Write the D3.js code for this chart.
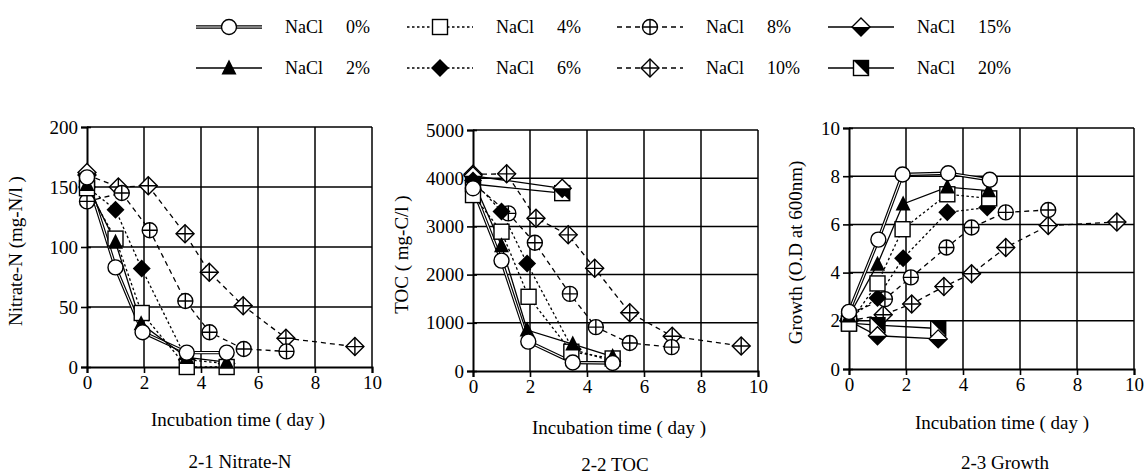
<!DOCTYPE html>
<html>
<head>
<meta charset="utf-8">
<script src="https://cdn.jsdelivr.net/npm/d3@7"></script>
<style>
  body { margin: 0; background: #fff; }
  svg, svg text { font-family: "Liberation Serif", "DejaVu Serif", serif; }
</style>
</head>
<body>
<div id="chart"></div>
<script>
// Series keys / legend labels
const series = ["0%", "2%", "4%", "6%", "8%", "10%", "15%", "20%"];

// Nitrate-N (mg-N/l), pairs of [day, value]
const nitrate0 = [[0, 158], [1, 83], [1.95, 29], [3.5, 12], [4.9, 12]];
const nitrate2 = [[0, 152], [1, 104], [1.9, 36], [3.5, 8], [4.9, 4]];
const nitrate4 = [[0, 149], [1, 107], [1.92, 45], [3.5, 0], [4.9, 0]];
const nitrate6 = [[0, 150], [1, 131], [1.92, 82], [3.5, 6], [4.9, 3]];
const nitrate8 = [[0, 138], [1.22, 145], [2.2, 114], [3.45, 55], [4.3, 29], [5.5, 15], [7, 13]];
const nitrate10 = [[0, 160], [1.1, 150], [2.15, 151], [3.44, 111], [4.29, 79], [5.48, 51], [6.98, 24], [9.4, 17]];
const nitrate15 = [[0, 162]];
const nitrate20 = [[0, 155]];

// TOC (mg-C/l)
const toc0 = [[0, 3790], [1, 2290], [1.94, 610], [3.5, 175], [4.9, 165]];
const toc2 = [[0, 3950], [1, 2600], [1.9, 850], [3.5, 560], [4.9, 300]];
const toc4 = [[0, 3650], [1, 2890], [1.95, 1540], [3.45, 400], [4.9, 260]];
const toc6 = [[0, 3950], [1, 3310], [1.9, 2230], [3.5, 450], [4.9, 200]];
const toc8 = [[0, 3900], [1.24, 3270], [2.17, 2660], [3.4, 1600], [4.31, 910], [5.5, 580], [6.97, 495]];
const toc10 = [[0, 4080], [1.18, 4090], [2.21, 3170], [3.34, 2825], [4.27, 2130], [5.5, 1210], [6.99, 720], [9.41, 520]];
const toc15 = [[0, 4050], [3.13, 3790]];
const toc20 = [[0, 3880], [3.13, 3690]];

// Growth (O.D at 600nm)
const growth0 = [[0, 2.37], [1.03, 5.37], [1.88, 8.07], [3.48, 8.12], [4.94, 7.85]];
const growth2 = [[0, 2.2], [1, 4.35], [1.9, 6.85], [3.45, 7.55], [4.9, 7.4]];
const growth4 = [[0, 1.88], [1, 3.55], [1.88, 5.8], [3.45, 7.25], [4.92, 7.08]];
const growth6 = [[0, 2.1], [1, 2.95], [1.9, 4.6], [3.45, 6.5], [4.85, 6.7]];
const growth8 = [[0, 2.3], [1.26, 2.9], [2.17, 3.8], [3.42, 5.04], [4.3, 5.87], [5.5, 6.5], [6.99, 6.6]];
const growth10 = [[0, 2.0], [1.2, 2.25], [2.2, 2.7], [3.33, 3.42], [4.3, 3.95], [5.5, 5.04], [6.99, 5.95], [9.4, 6.1]];
const growth15 = [[0, 2.0], [1, 1.38], [3.13, 1.25]];
const growth20 = [[0, 1.9], [1, 1.82], [3.13, 1.68]];

// Axis ticks and texts
const xTicks = [0, 2, 4, 6, 8, 10];
const nitrateTicks = [0, 50, 100, 150, 200];
const tocTicks = [0, 1000, 2000, 3000, 4000, 5000];
const growthTicks = [0, 2, 4, 6, 8, 10];
const yTitles = ["Nitrate-N (mg-N/l )", "TOC ( mg-C/l )", "Growth (O.D  at 600nm)"];
const captions = ["2-1 Nitrate-N", "2-2 TOC", "2-3 Growth"];
const xTitle = "Incubation time ( day )";

const panelData = [
  [nitrate0, nitrate2, nitrate4, nitrate6, nitrate8, nitrate10, nitrate15, nitrate20],
  [toc0, toc2, toc4, toc6, toc8, toc10, toc15, toc20],
  [growth0, growth2, growth4, growth6, growth8, growth10, growth15, growth20]
];
const panelTicks = [nitrateTicks, tocTicks, growthTicks];

// layout of the three plots
const boxes = [
  {left: 87, right: 372, top: 127, bottom: 367, ytitleX: 22, xtitleX: 238, xtitleY: 426, capX: 240, capY: 468},
  {left: 473, right: 758, top: 130, bottom: 371, ytitleX: 408, xtitleX: 619, xtitleY: 434, capX: 615, capY: 471},
  {left: 849, right: 1134, top: 128, bottom: 369, ytitleX: 802, xtitleX: 1002, xtitleY: 429, capX: 1005, capY: 469}
];

// line dash per series
const dashes = {"0%": null, "2%": null, "4%": "2.5,2.5", "6%": "2.5,2.5",
                "8%": "5,4", "10%": "5,4", "15%": null, "20%": null};

const svg = d3.select("#chart").append("svg")
  .attr("width", 1148).attr("height", 475);

function marker(g, key) {
  const s = 7.5;
  if (key === "0%") {
    g.append("circle").attr("r", s).attr("fill", "#fff").attr("stroke", "#000").attr("stroke-width", 1.4);
  } else if (key === "2%") {
    g.append("path").attr("d", `M0,${-s - 1}L${s},${s - 1}L${-s},${s - 1}Z`).attr("fill", "#000");
  } else if (key === "4%") {
    g.append("rect").attr("x", -s).attr("y", -s).attr("width", 2 * s).attr("height", 2 * s)
      .attr("fill", "#fff").attr("stroke", "#000").attr("stroke-width", 1.4);
  } else if (key === "6%") {
    g.append("path").attr("d", `M0,${-s - 1.5}L${s + 1.5},0L0,${s + 1.5}L${-s - 1.5},0Z`).attr("fill", "#000");
  } else if (key === "8%") {
    g.append("circle").attr("r", s).attr("fill", "#fff").attr("stroke", "#000").attr("stroke-width", 1.4);
    g.append("path").attr("d", `M${-s},0H${s}M0,${-s}V${s}`).attr("stroke", "#000").attr("stroke-width", 1.4);
  } else if (key === "10%") {
    const d = s + 1.5;
    g.append("path").attr("d", `M0,${-d}L${d},0L0,${d}L${-d},0Z`).attr("fill", "#fff").attr("stroke", "#000").attr("stroke-width", 1.4);
    g.append("path").attr("d", `M${-d},0H${d}M0,${-d}V${d}`).attr("stroke", "#000").attr("stroke-width", 1.4);
  } else if (key === "15%") {
    const d = s + 1.5;
    g.append("path").attr("d", `M0,${-d}L${d},0L0,${d}L${-d},0Z`).attr("fill", "#fff").attr("stroke", "#000").attr("stroke-width", 1.4);
    g.append("path").attr("d", `M${-d},0L${d},0L0,${d}Z`).attr("fill", "#000");
  } else if (key === "20%") {
    g.append("rect").attr("x", -s).attr("y", -s).attr("width", 2 * s).attr("height", 2 * s)
      .attr("fill", "#fff").attr("stroke", "#000").attr("stroke-width", 1.4);
    g.append("path").attr("d", `M${-s},${-s}L${s},${-s}L${s},${s}Z`).attr("fill", "#000");
  }
}

// the 0% series is drawn as a double line (black with a thin white core)
function seriesLine(g, d, key, path) {
  if (key === "0%") {
    g.append("path").attr("d", d).attr("fill", "none").attr("stroke", "#000").attr("stroke-width", 3.4);
    g.append("path").attr("d", d).attr("fill", "none").attr("stroke", "#fff").attr("stroke-width", 1.1);
  } else {
    g.append("path").attr("d", d).attr("fill", "none").attr("stroke", "#000")
      .attr("stroke-width", 1.3).attr("stroke-dasharray", dashes[key]);
  }
}

boxes.forEach((b, i) => {
  const ticks = panelTicks[i];
  const x = d3.scaleLinear().domain([0, 10]).range([b.left, b.right]);
  const y = d3.scaleLinear().domain([0, ticks[ticks.length - 1]]).range([b.bottom, b.top]);
  const g = svg.append("g");

  // grid
  g.append("g").selectAll("line").data(xTicks.slice(1)).join("line")
    .attr("x1", d => x(d)).attr("x2", d => x(d)).attr("y1", b.top).attr("y2", b.bottom)
    .attr("stroke", "#000").attr("stroke-width", 1.5);
  g.append("g").selectAll("line").data(ticks.slice(1)).join("line")
    .attr("x1", b.left).attr("x2", b.right).attr("y1", d => y(d)).attr("y2", d => y(d))
    .attr("stroke", "#000").attr("stroke-width", 1.5);

  // axes
  const ax = g.append("g").attr("transform", `translate(0,${b.bottom})`)
    .call(d3.axisBottom(x).tickValues(xTicks).tickSize(6).tickPadding(3).tickFormat(d3.format("d")));
  const ay = g.append("g").attr("transform", `translate(${b.left},0)`)
    .call(d3.axisLeft(y).tickValues(ticks).tickSize(6).tickPadding(3).tickFormat(d3.format("d")));
  [ax, ay].forEach(a => {
    a.attr("font-size", 19).attr("font-family", "Liberation Serif");
    a.select(".domain").attr("stroke-width", 2);
    a.selectAll(".tick line").attr("stroke-width", 1.6);
    a.selectAll("text").attr("fill", "#000")
      .style("font-family", "'Liberation Serif', serif").style("font-size", "19px");
  });
  ay.selectAll(".tick").append("line").attr("x2", 4).attr("stroke", "#000").attr("stroke-width", 1.6);

  // titles
  g.append("text").attr("transform", `translate(${b.ytitleX},${(b.top + b.bottom) / 2 + 4}) rotate(-90)`)
    .attr("text-anchor", "middle").attr("font-size", 19).text(yTitles[i]);
  g.append("text").attr("x", b.xtitleX).attr("y", b.xtitleY)
    .attr("text-anchor", "middle").attr("font-size", 19).text(xTitle);
  g.append("text").attr("x", b.capX).attr("y", b.capY)
    .attr("text-anchor", "middle").attr("font-size", 19).text(captions[i]);

  // lines
  const line = d3.line().x(d => x(d[0])).y(d => y(d[1]));
  const data = panelData[i];
  series.forEach((k, j) => seriesLine(g, line(data[j]), k));
  // markers, drawn so low-salt series end up on top
  [5, 4, 7, 6, 3, 2, 1, 0].forEach(j => {
    data[j].forEach(p => {
      const m = g.append("g").attr("transform", `translate(${x(p[0])},${y(p[1])})`);
      marker(m, series[j]);
    });
  });
});

// legend: two rows of four
const legendX = [229, 440, 650, 861];
const legendY = [27, 68];
const legendOrder = [["0%", "4%", "8%", "15%"], ["2%", "6%", "10%", "20%"]];
legendOrder.forEach((row, r) => {
  row.forEach((k, c) => {
    const cx = legendX[c], cy = legendY[r];
    const lg = svg.append("g");
    seriesLine(lg, `M${cx - 33},${cy}H${cx + 33}`, k);
    marker(lg.append("g").attr("transform", `translate(${cx},${cy})`), k);
    const t = lg.append("text").attr("y", cy + 6).attr("font-size", 18);
    t.append("tspan").attr("x", cx + 56).text("NaCl");
    t.append("tspan").attr("x", cx + 117).text(k);
  });
});
</script>
</body>
</html>
